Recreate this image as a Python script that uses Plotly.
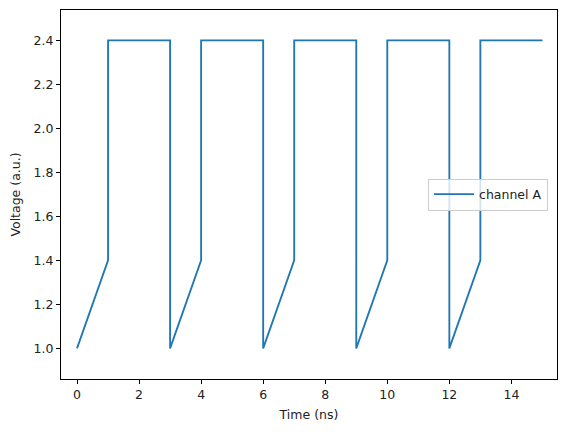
import plotly.graph_objects as go

time_ns = [0, 1, 1, 3, 3, 4, 4, 6, 6, 7, 7, 9, 9, 10, 10, 12, 12, 13, 13, 15]
voltage = [1.0, 1.4, 2.4, 2.4, 1.0, 1.4, 2.4, 2.4, 1.0, 1.4, 2.4, 2.4,
           1.0, 1.4, 2.4, 2.4, 1.0, 1.4, 2.4, 2.4]
x_ticks = [0, 2, 4, 6, 8, 10, 12, 14]
y_ticks = [1.0, 1.2, 1.4, 1.6, 1.8, 2.0, 2.2, 2.4]

fig = go.Figure()
fig.add_trace(go.Scatter(x=time_ns, y=voltage, mode="lines", name="channel A",
                         line=dict(color="#1f77b4", width=1.85)))

axis_common = dict(showline=True, linecolor="black", linewidth=1, mirror=True,
                   ticks="outside", ticklen=4, tickcolor="black", tickwidth=1,
                   showgrid=False, zeroline=False,
                   tickfont=dict(family="DejaVu Sans", size=12.5, color="#222"))

fig.update_layout(
    width=567, height=432,
    margin=dict(l=61, r=10, t=10, b=53),
    paper_bgcolor="white", plot_bgcolor="white",
    font=dict(family="DejaVu Sans", size=12.5, color="#222"),
    xaxis=dict(range=[-0.516, 15.47], tickvals=x_ticks,
               title=dict(text="Time (ns)", standoff=9, font=dict(size=12.5)),
               **axis_common),
    yaxis=dict(range=[0.861, 2.538], tickvals=y_ticks, tickformat=".1f",
               title=dict(text="Voltage (a.u.)", standoff=10, font=dict(size=12.5)),
               **axis_common),
    showlegend=True,
    legend=dict(x=0.982, y=0.5, xanchor="right", yanchor="middle",
                bgcolor="rgba(255,255,255,0.8)", bordercolor="#cccccc", borderwidth=1,
                font=dict(size=12.5, color="#222"), itemwidth=40),
)

fig.write_html("out.html")
